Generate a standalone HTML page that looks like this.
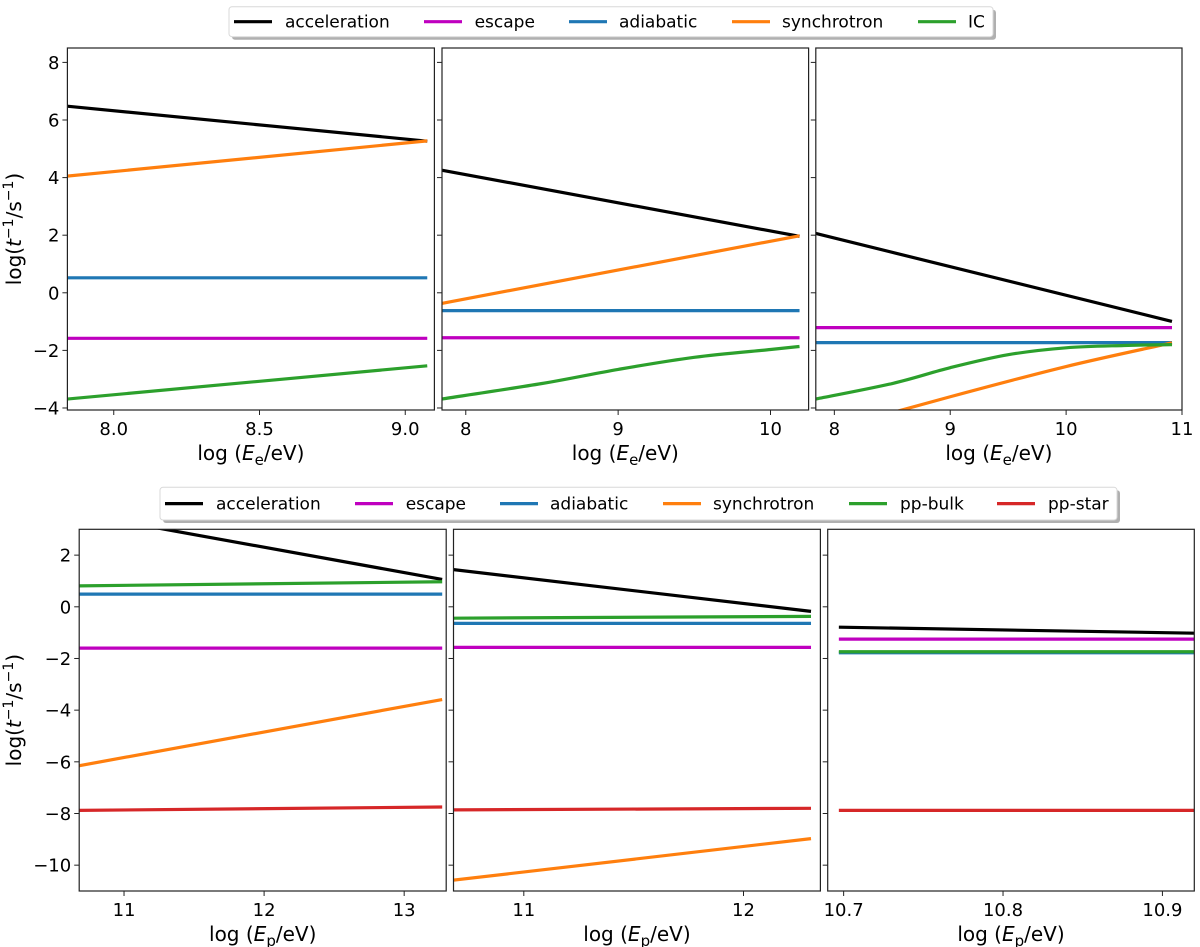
<!DOCTYPE html>
<html><head><meta charset="utf-8"><style>
html,body{margin:0;padding:0;background:#fff;}
svg{display:block;font-family:"DejaVu Sans","Liberation Sans",sans-serif;}
</style></head><body>
<svg id="chart" width="1200" height="947" viewBox="0 0 1200 947" xmlns="http://www.w3.org/2000/svg"></svg>
<script>
// ---- data ----
const t1X=[7.84,9.07];
const t1Acc=[6.48,5.27];
const t1Syn=[4.05,5.27];
const t1Adi=[0.52,0.52];
const t1Esc=[-1.58,-1.58];
const t1IC=[-3.69,-2.54];
const t2X=[7.84,10.18];
const t2Acc=[4.26,1.97];
const t2Syn=[-0.37,1.97];
const t2Adi=[-0.62,-0.62];
const t2Esc=[-1.56,-1.56];
const t2ICx=[7.84,8.5,9,9.5,10,10.18];
const t2IC=[-3.69,-3.15,-2.66,-2.24,-1.97,-1.87];
const t3X=[7.84,10.9];
const t3Acc=[2.06,-0.98];
const t3Esc=[-1.21,-1.21];
const t3Adi=[-1.73,-1.73];
const t3ICx=[7.84,8.5,9,9.5,10,10.5,10.9];
const t3IC=[-3.69,-3.15,-2.6,-2.15,-1.91,-1.83,-1.8];
const t3SynX=[7.84,9,10,10.9];
const t3Syn=[-4.9,-3.61,-2.56,-1.75];
const b1X=[10.68,13.26];
const b1Acc=[3.6,1.07];
const b1Esc=[-1.6,-1.6];
const b1Adi=[0.49,0.49];
const b1Syn=[-6.15,-3.6];
const b1Bulk=[0.81,0.97];
const b1Star=[-7.88,-7.75];
const b2X=[10.68,12.30];
const b2Acc=[1.44,-0.17];
const b2Esc=[-1.57,-1.57];
const b2Adi=[-0.64,-0.64];
const b2Syn=[-10.58,-8.98];
const b2Bulk=[-0.44,-0.37];
const b2Star=[-7.86,-7.8];
const b3X=[10.698,10.92];
const b3Acc=[-0.79,-1.02];
const b3Esc=[-1.25,-1.25];
const b3Adi=[-1.78,-1.78];
const b3Bulk=[-1.74,-1.74];
const b3Star=[-7.88,-7.88];
const topYTicks=[8,6,4,2,0,-2,-4];
const botYTicks=[2,0,-2,-4,-6,-8,-10];
const t1XTicks=[8.0,8.5,9.0];
const t1XLabels=["8.0","8.5","9.0"];
const t2XTicks=[8,9,10];
const t3XTicks=[8,9,10,11];
const b1XTicks=[11,12,13];
const b2XTicks=[11,12];
const b3XTicks=[10.7,10.8,10.9];
const b3XLabels=["10.7","10.8","10.9"];

const C={acc:"#000000",esc:"#bf00bf",adi:"#1f77b4",syn:"#ff7f0e",ic:"#2ca02c",star:"#d62728"};
const NS="http://www.w3.org/2000/svg";
const svg=document.getElementById('chart');
function mk(tag,attrs,parent){const e=document.createElementNS(NS,tag);for(const k in attrs)e.setAttribute(k,attrs[k]);(parent||svg).appendChild(e);return e;}

function smoothPath(pts){
  if(pts.length<3)return pts.map((p,i)=>(i?'L':'M')+p[0].toFixed(2)+' '+p[1].toFixed(2)).join(' ');
  let d='M'+pts[0][0].toFixed(2)+' '+pts[0][1].toFixed(2);
  for(let i=0;i<pts.length-1;i++){
    const p0=pts[Math.max(0,i-1)],p1=pts[i],p2=pts[i+1],p3=pts[Math.min(pts.length-1,i+2)];
    const c1=[p1[0]+(p2[0]-p0[0])/6,p1[1]+(p2[1]-p0[1])/6];
    const c2=[p2[0]-(p3[0]-p1[0])/6,p2[1]-(p3[1]-p1[1])/6];
    d+=' C'+c1[0].toFixed(2)+' '+c1[1].toFixed(2)+' '+c2[0].toFixed(2)+' '+c2[1].toFixed(2)+' '+p2[0].toFixed(2)+' '+p2[1].toFixed(2);
  }
  return d;
}

const panels=[
 {id:"top-1",x0:67.4,x1:434.4,y0:48,y1:410,xmin:7.841,xmax:9.1,ymin:-4.07,ymax:8.5,yt:topYTicks,yl:true,xt:t1XTicks,xl:t1XLabels,
  series:[[t1X,t1Acc,"acc"],[t1X,t1Esc,"esc"],[t1X,t1Adi,"adi"],[t1X,t1Syn,"syn"],[t1X,t1IC,"ic"]],xlab:"e"},
 {id:"top-2",x0:442,x1:808.6,y0:48,y1:410,xmin:7.844,xmax:10.25,ymin:-4.07,ymax:8.5,yt:topYTicks,yl:false,xt:t2XTicks,
  series:[[t2X,t2Acc,"acc"],[t2X,t2Esc,"esc"],[t2X,t2Adi,"adi"],[t2X,t2Syn,"syn"],[t2ICx,t2IC,"ic"]],xlab:"e"},
 {id:"top-3",x0:815.8,x1:1182,y0:48,y1:410,xmin:7.84,xmax:11,ymin:-4.07,ymax:8.5,yt:topYTicks,yl:false,xt:t3XTicks,
  series:[[t3X,t3Acc,"acc"],[t3X,t3Esc,"esc"],[t3X,t3Adi,"adi"],[t3SynX,t3Syn,"syn"],[t3ICx,t3IC,"ic"]],xlab:"e"},
 {id:"bottom-1",x0:79.2,x1:446.2,y0:529.3,y1:891,xmin:10.68,xmax:13.3,ymin:-11,ymax:3,yt:botYTicks,yl:true,xt:b1XTicks,
  series:[[b1X,b1Acc,"acc"],[b1X,b1Esc,"esc"],[b1X,b1Adi,"adi"],[b1X,b1Syn,"syn"],[b1X,b1Bulk,"ic"],[b1X,b1Star,"star"]],xlab:"p"},
 {id:"bottom-2",x0:453.5,x1:820.4,y0:529.3,y1:891,xmin:10.68,xmax:12.35,ymin:-11,ymax:3,yt:botYTicks,yl:false,xt:b2XTicks,
  series:[[b2X,b2Acc,"acc"],[b2X,b2Esc,"esc"],[b2X,b2Adi,"adi"],[b2X,b2Syn,"syn"],[b2X,b2Bulk,"ic"],[b2X,b2Star,"star"]],xlab:"p"},
 {id:"bottom-3",x0:827.7,x1:1194.3,y0:529.3,y1:891,xmin:10.69,xmax:10.92,ymin:-11,ymax:3,yt:botYTicks,yl:false,xt:b3XTicks,xl:b3XLabels,
  series:[[b3X,b3Acc,"acc"],[b3X,b3Esc,"esc"],[b3X,b3Adi,"adi"],[b3X,b3Bulk,"ic"],[b3X,b3Star,"star"]],xlab:"p"}
];
const names={acc:"acceleration",esc:"escape",adi:"adiabatic",syn:"synchrotron",ic:"ic",star:"pp-star"};

panels.forEach((p,pi)=>{
  const sx=v=>p.x0+(v-p.xmin)/(p.xmax-p.xmin)*(p.x1-p.x0);
  const sy=v=>p.y1-(v-p.ymin)/(p.ymax-p.ymin)*(p.y1-p.y0);
  const g=mk('g',{});
  
  
  const cp=mk('clipPath',{id:'clip'+pi},g);
  mk('rect',{x:p.x0,y:p.y0,width:p.x1-p.x0,height:p.y1-p.y0},cp);
  const lines=mk('g',{'clip-path':'url(#clip'+pi+')'},g);
  p.series.forEach(s=>{
    const xs=s[0],ys=s[1];
    const pts=xs.map((x,i)=>[sx(x),sy(ys[i])]);
    const path=mk('path',{d:smoothPath(pts),fill:'none',stroke:C[s[2]],'stroke-width':3.2,'stroke-linecap':'square'},lines);
    let nm=names[s[2]];
    if(s[2]==="ic"&&p.xlab==="p")nm="pp-bulk";
    
    
  });
  const fr=mk('rect',{x:p.x0,y:p.y0,width:p.x1-p.x0,height:p.y1-p.y0,fill:'none',stroke:'#222','stroke-width':1.2},g);
  
  
  p.yt.forEach(v=>{
    const y=sy(v);
    mk('line',{x1:p.x0-5,x2:p.x0,y1:y,y2:y,stroke:'#222','stroke-width':1},g);
    if(p.yl){
      const t=mk('text',{x:p.x0-8,y:y+6.5,'text-anchor':'end','font-size':18,fill:'#000'},g);
      t.textContent=(v<0?'\u2212':'')+Math.abs(v);
      
      
    }
  });
  p.xt.forEach((v,i)=>{
    const x=sx(v);
    mk('line',{x1:x,x2:x,y1:p.y1,y2:p.y1+5,stroke:'#222','stroke-width':1},g);
    const t=mk('text',{x:x,y:p.y1+25,'text-anchor':'middle','font-size':18,fill:'#000'},g);
    t.textContent=p.xl?p.xl[i]:String(v);
    
    
  });
  const xl=mk('text',{x:(p.x0+p.x1)/2,y:p.y1+50,'text-anchor':'middle','font-size':20,fill:'#000'},g);
  
  
  xl.innerHTML='log (<tspan font-style="italic">E</tspan><tspan font-size="15" dy="5">'+p.xlab+'</tspan><tspan dy="-5">/eV)</tspan>';
  if(p.yl){
    const cy=(p.y0+p.y1)/2;
    const yl=mk('text',{x:0,y:0,transform:'translate(21,'+cy+') rotate(-90)','text-anchor':'middle','font-size':20,fill:'#000'},g);
    
    
    yl.innerHTML='log(<tspan font-style="italic">t</tspan><tspan font-size="14" dy="-8">\u22121</tspan><tspan dy="8">/s</tspan><tspan font-size="14" dy="-8">\u22121</tspan><tspan dy="8">)</tspan>';
  }
});

function legend(name,x0,y0,x1,y1,items){
  const g=mk('g',{});
  
  
  mk('rect',{x:x0+3,y:y0+3,width:x1-x0,height:y1-y0,rx:3,fill:'#b0b0b0'},g);
  mk('rect',{x:x0,y:y0,width:x1-x0,height:y1-y0,rx:3,fill:'#fff',stroke:'#d8d8d8','stroke-width':1},g);
  const cy=(y0+y1)/2;
  items.forEach(it=>{
    const e=mk('g',{},g);
    
    
    mk('line',{x1:it[0],x2:it[0]+38,y1:cy,y2:cy,stroke:it[2],'stroke-width':3.2},e);
    const t=mk('text',{x:it[1],y:cy+6,'font-size':17,fill:'#000'},e);
    t.textContent=it[3];
  });
}
legend('legend-electrons',229,6.7,993,36.7,[[234,285,C.acc,'acceleration'],[424,474.6,C.esc,'escape'],[569,619,C.adi,'adiabatic'],[732,782,C.syn,'synchrotron'],[918,968,C.ic,'IC']]);
legend('legend-protons',160,487.3,1117,520,[[165,216,C.acc,'acceleration'],[355,405.7,C.esc,'escape'],[500,550,C.adi,'adiabatic'],[663,713,C.syn,'synchrotron'],[849,900,C.ic,'pp-bulk'],[997,1048,C.star,'pp-star']]);
</script>
</body></html>
